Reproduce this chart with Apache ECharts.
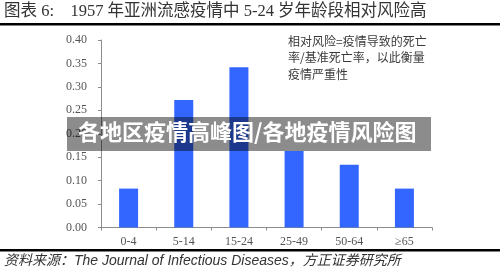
<!DOCTYPE html>
<html><head><meta charset="utf-8">
<script src="https://cdn.jsdelivr.net/npm/echarts@6/dist/echarts.min.js"></script>
<style>html,body{margin:0;padding:0;background:#fff}#c{width:500px;height:272px}</style>
</head><body><div id="c"></div>
<script>
var categories = ['0-4', '5-14', '15-24', '25-49', '50-64', '≥65'];
var relativeRisk = [0.083, 0.272, 0.342, 0.163, 0.134, 0.083];
var yTicks = {min: 0, max: 0.40, interval: 0.05};
var titleText = '图表 6:    1957 年亚洲流感疫情中 5-24 岁年龄段相对风险高';
var noteText = '相对风险=疫情导致的死亡\n率/基准死亡率，以此衡量\n疫情严重性';
var sourceText = '资料来源：The Journal of Infectious Diseases，方正证券研究所';
var bannerText = '各地区疫情高峰图/各地疫情风险图';

var chart = echarts.init(document.getElementById('c'), null, {renderer: 'canvas'});
var serif = '"Liberation Serif", "DejaVu Serif", "Noto Sans CJK SC", serif';
chart.setOption({
  animation: false,
  grid: {left: 101, right: 68, top: 40, bottom: 44.5},
  xAxis: {
    type: 'category', data: categories,
    axisLine: {lineStyle: {color: '#8c8c8c'}},
    axisTick: {show: true, length: 3, lineStyle: {color: '#8c8c8c'}},
    axisLabel: {color: '#555', fontFamily: serif, fontSize: 12, margin: 8}
  },
  yAxis: {
    type: 'value', min: yTicks.min, max: yTicks.max, interval: yTicks.interval,
    splitLine: {show: false},
    axisLine: {show: true, lineStyle: {color: '#8c8c8c'}},
    axisTick: {show: true, length: 3, lineStyle: {color: '#8c8c8c'}},
    axisLabel: {color: '#555', fontFamily: serif, fontSize: 12, margin: 14,
      formatter: function (v) { return v.toFixed(2); }}
  },
  series: [{
    type: 'bar', data: relativeRisk, barWidth: 19,
    itemStyle: {color: '#3366ff'}
  }],
  graphic: [
    {type: 'text', left: 4, top: 3, style: {text: titleText, fill: '#333', font: '16.5px ' + serif}},
    {type: 'rect', shape: {x: 0, y: 23, width: 500, height: 2.5}, style: {fill: '#000'}},
    {type: 'text', left: 288, top: 33, style: {text: noteText, fill: '#3a3a3a', font: '12px "Noto Sans CJK SC", sans-serif', lineHeight: 16.5}},
    {type: 'rect', shape: {x: 0, y: 249, width: 500, height: 2.5}, style: {fill: '#000'}},
    {type: 'text', left: 4, top: 254, style: {text: sourceText, fill: '#333', font: 'italic 14px "Liberation Sans", "Noto Sans CJK SC", sans-serif'}},
    {type: 'rect', z: 100, shape: {x: 67, y: 117, width: 364, height: 34}, style: {fill: 'rgba(0,0,0,0.45)'}},
    {type: 'text', z: 101, left: 78, top: 121, style: {text: bannerText, fill: '#fff', font: 'bold 22px "Noto Sans CJK SC", sans-serif'}}
  ]
});
</script>
</body></html>
